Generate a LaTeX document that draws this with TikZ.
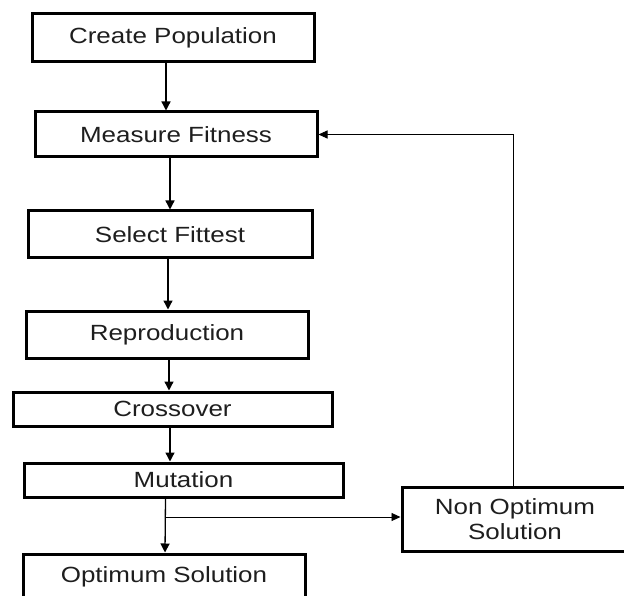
\documentclass[tikz,border=0pt]{standalone}
\usepackage{fontspec}
\usepackage{tikz}
\usetikzlibrary{arrows.meta,calc}
\newfontfamily\flowfont{Liberation Sans}[FakeStretch=1.18]
\definecolor{ink}{HTML}{1E1E1E}

\begin{document}
\begin{tikzpicture}[x=1pt, y=-1pt,
    every node/.style={font=\flowfont\fontsize{22}{25}\selectfont, align=center, text=ink},
    stage/.style={draw=black, line width=3pt, inner sep=0pt},
    flow/.style={-{Triangle[length=9pt,width=9pt]}, line width=1.3pt},
    back/.style={-{Triangle[length=9pt,width=8pt]}, line width=0.9pt}
  ]
  \useasboundingbox (0,0) rectangle (624,596);

  % ---- main column of stages ----------------------------------------
  \node[stage, minimum width=282pt, minimum height=48pt] (pop) at (173,38)    {Create Population};
  \node[stage, minimum width=282pt, minimum height=45pt] (fit) at (176,134.5) {Measure Fitness};
  \node[stage, minimum width=284pt, minimum height=47pt] (sel) at (170,234.5) {Select Fittest};
  \node[stage, minimum width=282pt, minimum height=47pt] (rep) at (167,334.5) {Reproduction};
  \node[stage, minimum width=319pt, minimum height=34pt] (cro) at (172.5,409) {Crossover};
  \node[stage, minimum width=319pt, minimum height=34pt] (mut) at (183.5,480) {Mutation};
  \node[stage, minimum width=282pt, minimum height=46pt] (opt) at (164,577)   {Optimum Solution};

  % ---- side branch ----------------------------------------------------
  \node[stage, minimum width=226pt, minimum height=64pt] (non) at (515,519)   {Non Optimum\\Solution};

  % ---- connectors -----------------------------------------------------
  \draw[flow] ([xshift=-7pt]pop.south) -- ([xshift=-10pt]fit.north);
  \draw[flow] ([xshift=-6pt]fit.south) -- (sel.north);
  \draw[flow] ([xshift=-2pt]sel.south) -- ([xshift=1pt]rep.north);
  \draw[flow] ([xshift=2pt]rep.south) -- ([xshift=-3.5pt]cro.north);
  \draw[flow] ([xshift=-2.5pt]cro.south) -- ([xshift=-13.5pt]mut.north);
  \draw[flow] ([xshift=-18pt]mut.south) -- ([xshift=1pt]opt.north);

  \coordinate (br) at (165.5,517);
  \draw[back] (br) -- (br -| non.west);
  \draw[back] ([xshift=-2pt]non.north) |- (fit.east);

\end{tikzpicture}
\end{document}
